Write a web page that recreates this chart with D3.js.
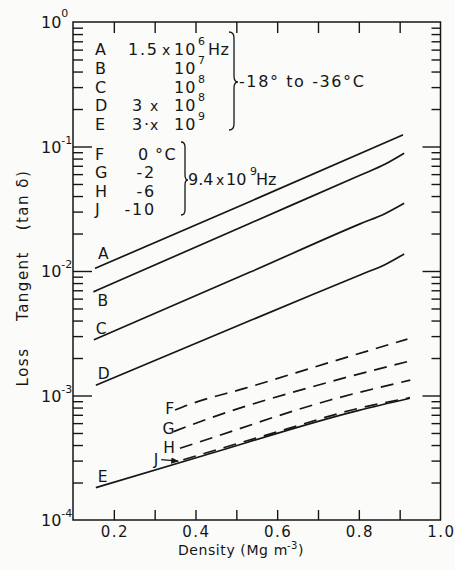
<!DOCTYPE html>
<html>
<head>
<meta charset="utf-8">
<script src="https://cdn.jsdelivr.net/npm/d3@7"></script>
<style>
  html, body { margin: 0; padding: 0; background: #fbfbfa; }
  svg { display: block; font-family: "DejaVu Sans", sans-serif; }
  text { fill: #161616; }
</style>
</head>
<body>
<svg id="chart" width="455" height="570"></svg>
<script>
// Loss tangent (tan δ) of snow as a function of density.
// Solid curves: -18 °C to -36 °C at several frequencies; dashed: 9.4 GHz at several temperatures.
// Each curve: [density (Mg m^-3), tan δ]
const curveA = [[0.154, 0.0105], [0.534, 0.0362], [0.908, 0.124]];
const curveB = [[0.150, 0.0068], [0.534, 0.0242], [0.803, 0.0588], [0.865, 0.0723], [0.911, 0.0882]];
const curveC = [[0.151, 0.0028], [0.534, 0.0098], [0.803, 0.0239], [0.865, 0.0290], [0.911, 0.0350]];
const curveD = [[0.156, 0.00121], [0.534, 0.0040], [0.803, 0.0093], [0.865, 0.0113], [0.911, 0.0137]];
const curveE = [[0.156, 0.000182], [0.410, 0.000322], [0.800, 0.00076], [0.925, 0.00095]];
const curveF = [[0.350, 0.000765], [0.395, 0.00087], [0.520, 0.00114], [0.730, 0.00185], [0.919, 0.00284]];
const curveG = [[0.346, 0.000512], [0.411, 0.000616], [0.730, 0.00129], [0.919, 0.00187]];
const curveH = [[0.362, 0.000377], [0.411, 0.000425], [0.730, 0.00092], [0.926, 0.00133]];
const curveJ = [[0.370, 0.000305], [0.600, 0.00051], [0.800, 0.00079], [0.925, 0.00096]];

const xTickValues = [0.2, 0.3, 0.4, 0.5, 0.6, 0.7, 0.8, 0.9];
const xTickLabels = [0.2, 0.4, 0.6, 0.8, 1.0];
const yExponents = [0, -1, -2, -3, -4];

const xDomain = [0.1, 1.0];
const yDomain = [1e-4, 1];

// ---- layout ----
const plot = { left: 73, right: 440.5, top: 22, bottom: 520 };
const svg = d3.select("#chart");
const ink = "#161616";

const x = d3.scaleLinear().domain(xDomain).range([plot.left, plot.right]);
const y = d3.scaleLog().domain(yDomain).range([plot.bottom, plot.top]);

// ---- ticks (all pointing inward) ----
const yMajor = yExponents.slice(1, -1).map(e => Math.pow(10, e));
const yMinor = [];
yExponents.slice(1).forEach(e => {
  for (let k = 2; k <= 9; k++) yMinor.push(k * Math.pow(10, e));
});

function styleAxis(g) {
  g.select(".domain").remove();
  g.selectAll(".tick line").attr("stroke", ink).attr("stroke-width", 1.4);
  g.selectAll(".tick text").remove();
}

svg.append("g").attr("transform", `translate(0,${plot.bottom})`)
  .call(d3.axisBottom(x).tickValues(xTickValues).tickSize(-10)).call(styleAxis);
svg.append("g").attr("transform", `translate(0,${plot.top})`)
  .call(d3.axisTop(x).tickValues(xTickValues).tickSize(-11)).call(styleAxis);
svg.append("g").attr("transform", `translate(${plot.left},0)`)
  .call(d3.axisLeft(y).tickValues(yMajor).tickSize(-19)).call(styleAxis);
svg.append("g").attr("transform", `translate(${plot.left},0)`)
  .call(d3.axisLeft(y).tickValues(yMinor).tickSize(-10)).call(styleAxis);
svg.append("g").attr("transform", `translate(${plot.right},0)`)
  .call(d3.axisRight(y).tickValues(yMajor).tickSize(-18)).call(styleAxis);
svg.append("g").attr("transform", `translate(${plot.right},0)`)
  .call(d3.axisRight(y).tickValues(yMinor).tickSize(-9)).call(styleAxis);

// frame
svg.append("rect")
  .attr("x", plot.left).attr("y", plot.top)
  .attr("width", plot.right - plot.left).attr("height", plot.bottom - plot.top)
  .attr("fill", "none").attr("stroke", ink).attr("stroke-width", 1.5);

// ---- tick labels ----
svg.append("g").selectAll("text").data(xTickLabels).join("text")
  .attr("x", d => x(d) + 1).attr("y", plot.bottom + 17)
  .attr("text-anchor", "middle")
  .attr("font-size", 15).attr("letter-spacing", 1.5)
  .text(d => d3.format(".1f")(d));

const yLab = svg.append("g").selectAll("text").data(yExponents).join("text")
  .attr("x", 41).attr("y", d => y(Math.pow(10, d)) + 6)
  .attr("font-size", 16);
yLab.append("tspan").text("10");
yLab.append("tspan")
  .attr("dy", d => d < 0 ? -9 : -11)
  .attr("font-size", 11)
  .text(d => d < 0 ? "-" + Math.abs(d) : String(d));

// ---- axis titles ----
const xTitle = svg.append("text")
  .attr("x", 241).attr("y", 555)
  .attr("text-anchor", "middle")
  .attr("font-size", 14).attr("letter-spacing", 0.6);
xTitle.append("tspan").text("Density (Mg m");
xTitle.append("tspan").attr("dx", -1).attr("dy", -6).attr("font-size", 10).text("-3");
xTitle.append("tspan").attr("dy", 6).text(")");

[["Loss", 367], ["Tangent", 286], ["(tan δ)", 200]].forEach(([t, cy]) => {
  svg.append("text")
    .attr("transform", `translate(28,${cy}) rotate(-90)`)
    .attr("text-anchor", "middle")
    .attr("font-size", 15).attr("letter-spacing", 1.5)
    .text(t);
});

// ---- curves ----
const line = d3.line()
  .x(d => x(d[0])).y(d => y(d[1]))
  .curve(d3.curveMonotoneX);

const solid = [
  { id: "A", pts: curveA, dx: 3, dy: -9 },
  { id: "B", pts: curveB, dx: 4, dy: 14 },
  { id: "C", pts: curveC, dx: 2, dy: -6 },
  { id: "D", pts: curveD, dx: 2, dy: -6 },
  { id: "E", pts: curveE, dx: 2, dy: -6 }
];
const dashed = [
  { id: "F", pts: curveF, dx: -1, dy: 4 },
  { id: "G", pts: curveG, dx: 1, dy: 2 },
  { id: "H", pts: curveH, dx: -5, dy: 5 },
  { id: "J", pts: curveJ, dx: -25, dy: 5 }
];

svg.append("g").selectAll("path").data(solid).join("path")
  .attr("d", d => line(d.pts))
  .attr("fill", "none").attr("stroke", ink).attr("stroke-width", 1.7);

svg.append("g").selectAll("path").data(dashed).join("path")
  .attr("d", d => line(d.pts))
  .attr("fill", "none").attr("stroke", ink).attr("stroke-width", 1.7)
  .attr("stroke-dasharray", "13,8");

svg.append("g").selectAll("text").data(solid.concat(dashed)).join("text")
  .attr("x", d => x(d.pts[0][0]) + d.dx)
  .attr("y", d => y(d.pts[0][1]) + d.dy)
  .attr("text-anchor", d => d.dx < 0 || d.id === "G" ? "end" : "start")
  .attr("font-size", 15.5)
  .text(d => d.id);

// arrow from the J label to its curve
const jx = x(curveJ[0][0]), jy = y(curveJ[0][1]);
svg.append("defs").append("marker")
  .attr("id", "arrow").attr("viewBox", "0 0 10 10")
  .attr("refX", 9).attr("refY", 5)
  .attr("markerWidth", 6).attr("markerHeight", 6)
  .attr("orient", "auto")
  .append("path").attr("d", "M0,1 L10,5 L0,9 Z").attr("fill", ink);
svg.append("line")
  .attr("x1", jx - 22).attr("y1", jy).attr("x2", jx - 5).attr("y2", jy + 1.5)
  .attr("stroke", ink).attr("stroke-width", 1.3)
  .attr("marker-end", "url(#arrow)");

// ---- key ----
const rowsFreq = ["A", "B", "C", "D", "E"];
const rowsTemp = ["F", "G", "H", "J"];
const freqMult = ["1.5", "", "", "3", "3·"];
const freqExp = [6, 7, 8, 8, 9];
const tempVals = ["0", "-2", "-6", "-10"];

const key = svg.append("g").attr("font-size", 16);
function word(t, px, py, opts = {}) {
  const el = key.append("text").attr("x", px).attr("y", py).text(t)
    .attr("letter-spacing", opts.ls == null ? 1.8 : opts.ls);
  if (opts.anchor) el.attr("text-anchor", opts.anchor);
  if (opts.size) el.attr("font-size", opts.size);
  return el;
}

rowsFreq.forEach((r, i) => {
  const by = 55 + i * 18.75;
  word(r, 95, by);
  if (freqMult[i]) {
    word(freqMult[i], i === 0 ? 128 : 132, by);
    word("x", i === 0 ? 162 : 150, by, { ls: 0, size: 14 });
  }
  word("10", 174, by, { ls: 1 });
  word(String(freqExp[i]), 198, by - 10, { size: 11, ls: 0 });
  if (i === 0) word("Hz", 208, by, { ls: 0.5 });
});

// brace for A–E
key.append("path")
  .attr("d", "M229,32 Q234,32 234,38 L234,76 Q234,82 238,82 Q234,82 234,88 L234,124 Q234,130 229,130")
  .attr("fill", "none").attr("stroke", ink).attr("stroke-width", 1.3);
word("-18° to -36°C", 239, 87, { ls: 1.6 });

rowsTemp.forEach((r, i) => {
  const by = 160 + i * 18.33;
  word(r, 95, by);
  word(tempVals[i], i === 0 ? 150 : 156, by, { anchor: "end" });
  if (i === 0) word("°C", 155, by, { ls: 1.5 });
});

// brace for F–J
key.append("path")
  .attr("d", "M181,142 Q185,142 185,147 L185,175 Q185,180 188,180 Q185,180 185,185 L185,210 Q185,215 181,215")
  .attr("fill", "none").attr("stroke", ink).attr("stroke-width", 1.3);
word("9.4", 188, 185, { ls: 0 });
word("x", 216, 185, { ls: 0, size: 14 });
word("10", 226, 185, { ls: 0 });
word("9", 250, 175, { ls: 0, size: 11 });
word("Hz", 256, 185, { ls: 0 });
</script>
</body>
</html>
